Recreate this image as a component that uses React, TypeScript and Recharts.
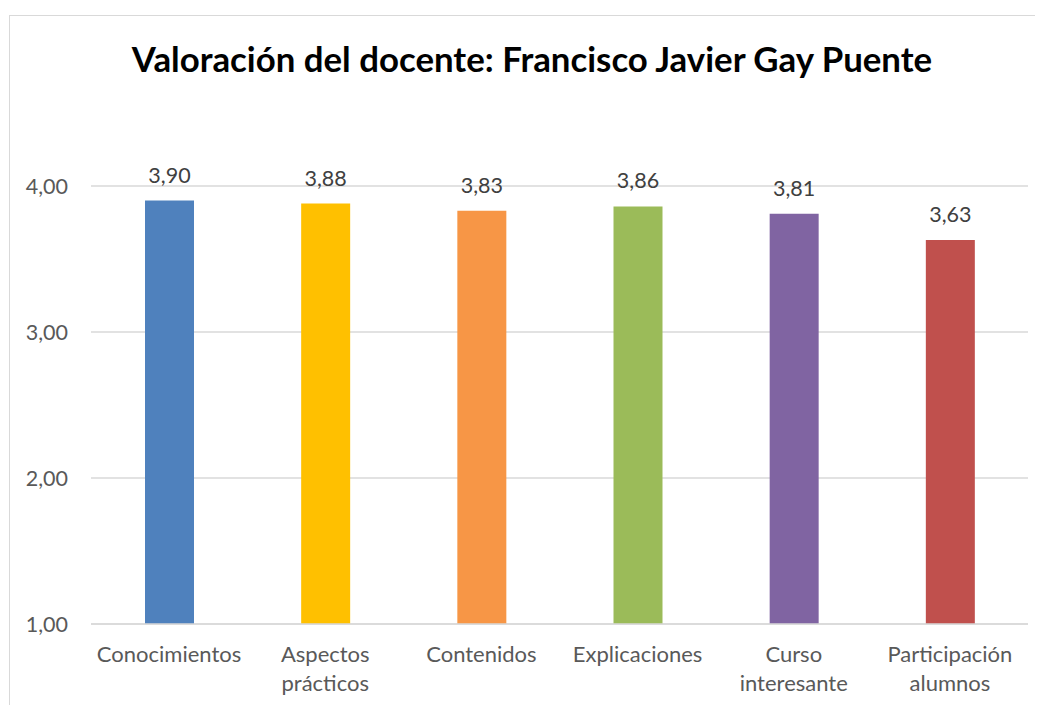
import { Bar, BarChart, CartesianGrid, Cell, LabelList, XAxis, YAxis } from "recharts";

const categories = [
  "Conocimientos",
  "Aspectos prácticos",
  "Contenidos",
  "Explicaciones",
  "Curso interesante",
  "Participación alumnos",
];
const values = [3.9, 3.88, 3.83, 3.86, 3.81, 3.63];
const barColors = ["#4F81BD", "#FFC000", "#F79646", "#9BBB59", "#8064A2", "#C0504D"];
const yTicks = [1, 2, 3, 4];

const FONT = "Lato, 'Open Sans', sans-serif";
const fmt = (v: number) => v.toFixed(2).replace(".", ",");

function CategoryTick({ x, y, payload }: any) {
  const words = String(payload.value).split(" ");
  return (
    <text x={x} y={y} textAnchor="middle" fill="#595959" fontSize={22} fontFamily={FONT}>
      {words.map((w, i) => (
        <tspan key={i} x={x} dy={i === 0 ? 30 : 29}>
          {w}
        </tspan>
      ))}
    </text>
  );
}

export default function App() {
  const data = categories.map((name, i) => ({ name, value: values[i] }));
  return (
    <div style={{ position: "relative", width: 1035, height: 697, overflow: "hidden", background: "#fff" }}>
      <div
        style={{
          position: "absolute",
          left: 1,
          top: 7,
          width: 1100,
          height: 800,
          border: "1px solid #d9d9d9",
          boxSizing: "border-box",
        }}
      />
      <div
        style={{
          position: "absolute",
          left: 0,
          top: 31,
          width: 1048,
          textAlign: "center",
          fontFamily: FONT,
          fontWeight: 700,
          fontSize: 34.8,
          lineHeight: "40px",
          color: "#000",
        }}
      >
        Valoración del docente: Francisco Javier Gay Puente
      </div>
      <div style={{ position: "absolute", left: 0, top: 0 }}>
        <BarChart
          width={1035}
          height={697}
          data={data}
          margin={{ top: 178, right: 15, left: 23, bottom: 21 }}
        >
          <CartesianGrid vertical={false} stroke="#d9d9d9" strokeWidth={1.5} />
          <XAxis
            dataKey="name"
            interval={0}
            height={60}
            tickLine={false}
            axisLine={{ stroke: "#d9d9d9", strokeWidth: 1.5 }}
            tick={<CategoryTick />}
          />
          <YAxis
            width={60}
            domain={[1, 4]}
            ticks={yTicks}
            tickFormatter={fmt}
            axisLine={false}
            tickLine={false}
            tickMargin={17}
            tick={{ fontSize: 21.5, fill: "#595959", fontFamily: FONT }}
          />
          <Bar dataKey="value" barSize={49} isAnimationActive={false}>
            {data.map((d, i) => (
              <Cell key={d.name} fill={barColors[i]} />
            ))}
            <LabelList
              dataKey="value"
              position="top"
              offset={18}
              formatter={(v: any) => fmt(Number(v))}
              style={{ fontSize: 21.5, fill: "#404040", fontFamily: FONT }}
            />
          </Bar>
        </BarChart>
      </div>
    </div>
  );
}
